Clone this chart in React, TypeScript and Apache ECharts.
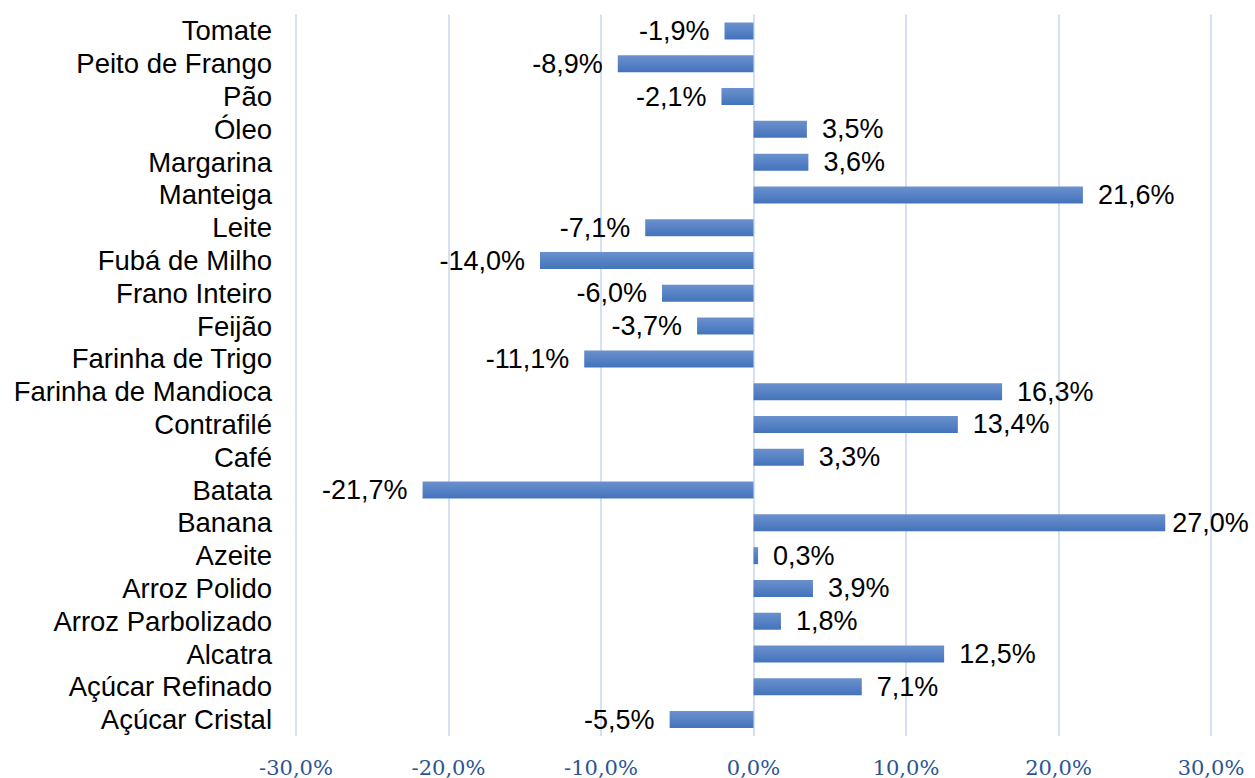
import React, { useEffect, useRef } from "react";
import * as echarts from "echarts";

const categories = [
  "Açúcar Cristal",
  "Açúcar Refinado",
  "Alcatra",
  "Arroz Parbolizado",
  "Arroz Polido",
  "Azeite",
  "Banana",
  "Batata",
  "Café",
  "Contrafilé",
  "Farinha de Mandioca",
  "Farinha de Trigo",
  "Feijão",
  "Frano Inteiro",
  "Fubá de Milho",
  "Leite",
  "Manteiga",
  "Margarina",
  "Óleo",
  "Pão",
  "Peito de Frango",
  "Tomate",
];

const values = [
  -5.5, 7.1, 12.5, 1.8, 3.9, 0.3, 27.0, -21.7, 3.3, 13.4, 16.3, -11.1, -3.7,
  -6.0, -14.0, -7.1, 21.6, 3.6, 3.5, -2.1, -8.9, -1.9,
];

const fmt = (v: number) => v.toFixed(1).replace(".", ",") + "%";

export default function App() {
  const ref = useRef<HTMLDivElement>(null);
  useEffect(() => {
    if (!ref.current) return;
    const chart = echarts.init(ref.current, undefined, { renderer: "svg" });
    const maxV = Math.max(...values);
    chart.setOption({
      animation: false,
      grid: { left: 296, right: 44, top: 14.6, bottom: 41.6, containLabel: false },
      xAxis: {
        type: "value",
        min: -30,
        max: 30,
        interval: 10,
        axisLine: { show: false },
        axisTick: { show: false },
        splitLine: { show: true, lineStyle: { color: "#d5e1f2", width: 2 } },
        axisLabel: {
          formatter: (v: number) => fmt(v),
          color: "#2b5592",
          fontFamily: "DejaVu Serif",
          fontSize: 21,
          margin: 21,
        },
      },
      yAxis: {
        type: "category",
        data: categories,
        axisLine: { show: false },
        axisTick: { show: false },
        axisLabel: {
          interval: 0,
          color: "#000",
          fontFamily: "Liberation Sans",
          fontSize: 27.5,
          margin: 24,
        },
      },
      series: [
        {
          type: "bar",
          barWidth: 17,
          data: values.map((v) => ({
            value: v,
            label: {
              position: v < 0 ? "left" : "right",
              distance: v === maxV ? 7 : 15,
            },
          })),
          itemStyle: {
            color: new echarts.graphic.LinearGradient(0, 0, 0, 1, [
              { offset: 0, color: "#6b91cd" },
              { offset: 1, color: "#4373bc" },
            ]),
          },
          label: {
            show: true,
            formatter: (p: any) => fmt(p.value),
            color: "#000",
            fontFamily: "Liberation Sans",
            fontSize: 27,
          },
        },
      ],
    });
    return () => chart.dispose();
  }, []);
  return (
    <div
      ref={ref}
      style={{ position: "fixed", left: 0, top: 0, width: 1255, height: 778, background: "#fff" }}
    />
  );
}
